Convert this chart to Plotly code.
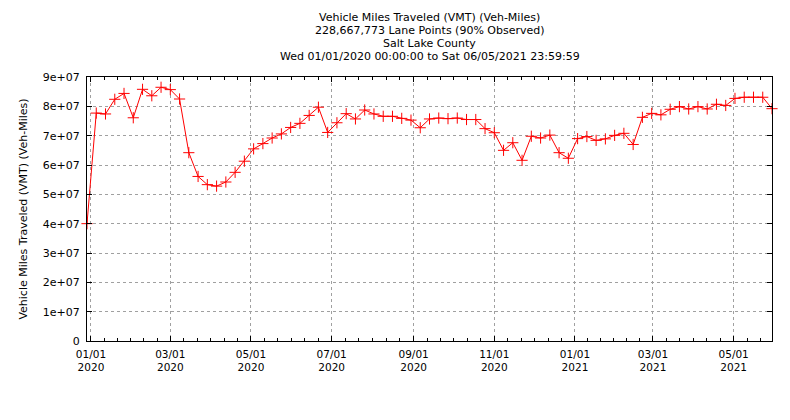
import plotly.graph_objects as go
import pandas as pd

# Weekly VMT (weeks starting Sunday)
week_start = "2019-12-29"
n_weeks = 75
vmt_millions = [
    40.0, 77.7, 77.4, 82.4, 84.4, 76.1, 85.8, 83.6, 86.5, 85.7,
    82.5, 64.2, 56.1, 53.3, 52.8, 54.2, 57.5, 61.3, 65.5, 67.3,
    69.2, 70.6, 72.8, 74.2, 76.9, 79.7, 71.1, 74.4, 77.5, 75.7,
    78.75, 77.4, 76.6, 76.6, 75.9, 75.3, 72.7, 75.7, 76.0, 75.8,
    76.0, 75.5, 75.5, 72.4, 71.0, 65.0, 67.6, 61.6, 69.8, 69.2,
    70.2, 64.2, 62.3, 69.0, 69.7, 68.4, 68.9, 70.1, 70.8, 67.0,
    76.25, 77.6, 77.1, 79.0, 79.9, 79.1, 79.9, 79.1, 80.7, 80.3,
    82.7, 83.1, 83.1, 83.1, 79.2,
]
dates = pd.date_range(week_start, periods=n_weeks, freq="7D")
vmt = [v * 1e6 for v in vmt_millions]

x_tick_vals = ["2020-01-01", "2020-03-01", "2020-05-01", "2020-07-01", "2020-09-01",
               "2020-11-01", "2021-01-01", "2021-03-01", "2021-05-01"]
x_tick_text = ["01/01<br>2020", "03/01<br>2020", "05/01<br>2020", "07/01<br>2020",
               "09/01<br>2020", "11/01<br>2020", "01/01<br>2021", "03/01<br>2021",
               "05/01<br>2021"]
y_tick_vals = [i * 1e7 for i in range(10)]
y_tick_text = ["0"] + [f"{i}e+07" for i in range(1, 10)]

title_lines = [
    "Vehicle Miles Traveled (VMT) (Veh-Miles)",
    "228,667,773 Lane Points (90% Observed)",
    "Salt Lake County",
    "Wed 01/01/2020 00:00:00 to Sat 06/05/2021 23:59:59",
]
y_title = "Vehicle Miles Traveled (VMT) (Veh-Miles)"

# minor ticks: split each 2-month interval into 6 parts
major = pd.to_datetime(x_tick_vals + ["2021-07-01"])
start_pre = pd.Timestamp("2019-11-01")
bounds = [start_pre] + list(major)
minor_vals = []
for a, b in zip(bounds[:-1], bounds[1:]):
    step = (b - a) / 6
    for j in range(1, 6):
        minor_vals.append((a + step * j).strftime("%Y-%m-%d %H:%M:%S"))

FONT = "DejaVu Sans"

fig = go.Figure()
fig.add_trace(go.Scatter(
    x=dates, y=vmt, mode="lines+markers", cliponaxis=False,
    line=dict(color="#ff0000", width=1),
    marker=dict(symbol="cross-thin", size=8, line=dict(color="#ff0000", width=1)),
    showlegend=False,
))

annotations = []
for i, line in enumerate(title_lines):
    annotations.append(dict(
        text=line, xref="paper", yref="paper",
        x=0.5, y=1, xanchor="center", yanchor="middle", yshift=60 - 13 * i,
        showarrow=False, font=dict(family=FONT, size=11, color="black"),
    ))

# page has an 8px body margin, so the figure is drawn 8px smaller and offset
fig.update_layout(
    width=782, height=412,
    margin=dict(l=79, r=18, t=69, b=79, autoexpand=False),
    paper_bgcolor="white", plot_bgcolor="white",
    font=dict(family=FONT, size=10, color="black"),
    annotations=annotations,
)
fig.update_xaxes(
    range=[dates[0], dates[-1]], automargin=False,
    tickmode="array", tickvals=x_tick_vals, ticktext=x_tick_text,
    ticks="inside", ticklen=5, tickcolor="black", tickwidth=1,
    showline=True, linecolor="black", linewidth=1, mirror="ticks",
    showgrid=True, gridcolor="#a0a0a0", griddash="dot", gridwidth=1,
    zeroline=False, tickfont=dict(size=10.5), ticklabelstandoff=3,
    minor=dict(tickmode="array", tickvals=minor_vals, ticks="inside", ticklen=3,
               tickcolor="black", showgrid=False),
)
fig.update_yaxes(
    range=[0, 9e7], automargin=False,
    tickmode="array", tickvals=y_tick_vals, ticktext=y_tick_text,
    ticks="inside", ticklen=5, tickcolor="black", tickwidth=1,
    showline=True, linecolor="black", linewidth=1, mirror="ticks",
    showgrid=True, gridcolor="#a0a0a0", griddash="dot", gridwidth=1,
    zeroline=False, tickfont=dict(size=11), ticklabelstandoff=4,
    title=dict(text=y_title, font=dict(size=11), standoff=12),
)

fig.write_html("out.html")
